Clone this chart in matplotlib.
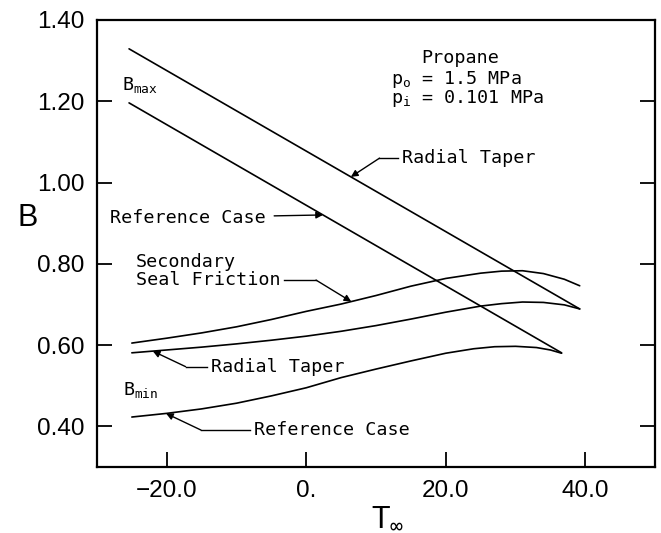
import numpy as np
import matplotlib
matplotlib.use("Agg")
import matplotlib.pyplot as plt

plt.rcParams['font.family'] = ['Liberation Sans', 'DejaVu Sans']
plt.rcParams['mathtext.fontset'] = 'custom'
plt.rcParams['mathtext.rm'] = 'DejaVu Sans Mono'
plt.rcParams['mathtext.it'] = 'DejaVu Sans Mono'

# B_max lines (straight)
t_max_ref = [-25.4, 36.6]
b_max_ref = [1.196, 0.581]
t_max_rt = [-25.4, 39.2]
b_max_rt = [1.329, 0.689]

# B_min curves
t_ssf = [-25, -20, -15, -10, -5, 0, 5, 10, 15, 20, 25, 28, 31, 34, 37, 39.2]
b_ssf = [0.605, 0.617, 0.630, 0.645, 0.663, 0.683, 0.701, 0.722, 0.745, 0.764, 0.777,
         0.782, 0.783, 0.776, 0.762, 0.746]

t_rt = [-25, -20, -15, -10, -5, 0, 5, 10, 15, 20, 25, 28, 31, 34, 37, 39.2]
b_rt = [0.581, 0.588, 0.595, 0.603, 0.612, 0.622, 0.634, 0.648, 0.664, 0.681, 0.696,
         0.702, 0.706, 0.705, 0.699, 0.689]

t_ref = [-25, -20, -15, -10, -5, 0, 5, 10, 15, 20, 24, 27, 30, 33, 35, 36.6]
b_ref = [0.423, 0.432, 0.443, 0.457, 0.475, 0.495, 0.520, 0.541, 0.561, 0.580, 0.591,
         0.596, 0.597, 0.594, 0.588, 0.580]

xticks = [-20, 0, 20, 40]
xticklabels = ['\u221220.0', '0.', '20.0', '40.0']
yticks = [0.40, 0.60, 0.80, 1.00, 1.20, 1.40]

fig = plt.figure(figsize=(6.61, 5.33), dpi=100)
ax = fig.add_axes([0.1467, 0.1238, 0.8443, 0.8387])

lw = 1.2
for t, b in [(t_max_ref, b_max_ref), (t_max_rt, b_max_rt),
             (t_ssf, b_ssf), (t_rt, b_rt), (t_ref, b_ref)]:
    ax.plot(t, b, color='black', lw=lw, solid_capstyle='round', solid_joinstyle='round')

ax.set_xlim(-30, 50)
ax.set_ylim(0.30, 1.40)
ax.set_xticks(xticks)
ax.set_xticklabels(xticklabels)
ax.set_yticks(yticks)
ax.set_yticklabels(['%.2f' % v for v in yticks])
ax.tick_params(direction='in', length=11, width=1.3, labelsize=17.5, pad=9,
               right=True, top=False, colors='black')
for s in ax.spines.values():
    s.set_linewidth(1.6)

ax.set_ylabel('B', fontsize=22, rotation=0, va='center')
ax.yaxis.set_label_coords(-0.125, 0.557)
ax.set_xlabel(r'T$_{\infty}$', fontsize=22, va='center')
ax.xaxis.set_label_coords(0.521, -0.112)

mono = dict(family='DejaVu Sans Mono', fontsize=13.2, color='black')
arrow = dict(arrowstyle='-|>', color='black', lw=1.0,
             shrinkA=0, shrinkB=0, mutation_scale=10)


def leader(text_pt, corner, t_tip, tt, bb):
    # horizontal leader from the label, then an angled arrow onto the curve
    tip = (t_tip, np.interp(t_tip, tt, bb))
    ax.plot([text_pt[0], corner[0]], [text_pt[1], corner[1]], color='black', lw=1.0)
    ax.annotate('', xy=tip, xytext=corner, arrowprops=arrow)


# labels and leaders
ax.text(-26.4, 1.240, r'B$_{\mathrm{max}}$', va='center', ha='left', **mono)
ax.text(-26.3, 0.490, r'B$_{\mathrm{min}}$', va='center', ha='left', **mono)

ax.text(22.1, 1.307, 'Propane', ha='center', va='center', **mono)
ax.text(12.1, 1.254, r'p$_{\mathrm{o}}$ = 1.5 MPa', ha='left', va='center', **mono)
ax.text(12.1, 1.206, r'p$_{\mathrm{i}}$ = 0.101 MPa', ha='left', va='center', **mono)

ax.text(13.7, 1.060, 'Radial Taper', ha='left', va='center', **mono)
leader((13.2, 1.060), (10.5, 1.060), 6.4, t_max_rt, b_max_rt)

ax.text(-28.2, 0.913, 'Reference Case', ha='left', va='center', **mono)
ax.annotate('', xy=(2.4, np.interp(2.4, t_max_ref, b_max_ref)), xytext=(-4.6, 0.918),
            arrowprops=arrow)

ax.text(-24.4, 0.805, 'Secondary', ha='left', va='center', **mono)
ax.text(-24.4, 0.760, 'Seal Friction', ha='left', va='center', **mono)
leader((-3.2, 0.760), (1.4, 0.760), 6.45, t_ssf, b_ssf)

ax.text(-13.7, 0.547, 'Radial Taper', ha='left', va='center', **mono)
leader((-14.2, 0.547), (-17.3, 0.547), -22.0, t_rt, b_rt)

ax.text(-7.5, 0.391, 'Reference Case', ha='left', va='center', **mono)
leader((-8.0, 0.391), (-15.1, 0.391), -20.1, t_ref, b_ref)

fig.savefig('out.png', dpi=100)
